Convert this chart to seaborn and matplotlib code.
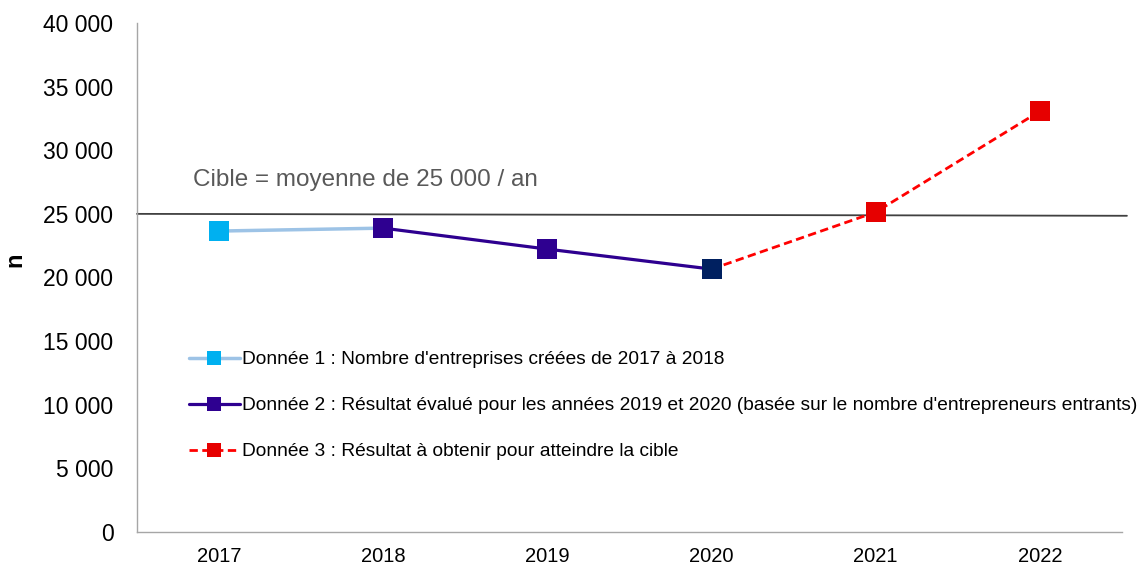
import matplotlib
matplotlib.use("Agg")
import matplotlib.pyplot as plt
from matplotlib.lines import Line2D
import seaborn as sns
import pandas as pd

# ---- data ----
years = ["2017", "2018", "2019", "2020", "2021", "2022"]
serie1_years = ["2017", "2018"]
serie1_values = [23650, 23880]
serie2_years = ["2018", "2019", "2020"]
serie2_values = [23880, 22230, 20660]
serie3_years = ["2020", "2021", "2022"]
serie3_values = [20660, 25140, 33070]
point_values = [23650, 23880, 22230, 20660, 25140, 33070]
cible_values = [25000, 24850]
cible_text = "Cible = moyenne de 25 000 / an"
legend_labels = [
    "Donnée 1 : Nombre d'entreprises créées de 2017 à 2018",
    "Donnée 2 : Résultat évalué pour les années 2019 et 2020 (basée sur le nombre d'entrepreneurs entrants)",
    "Donnée 3 : Résultat à obtenir pour atteindre la cible",
]
y_ticks = [0, 5000, 10000, 15000, 20000, 25000, 30000, 35000, 40000]
y_label = "n"

# ---- styles ----
c1_line, c1_mark = "#9DC3E6", "#00B0F0"
c2 = "#2E0090"
c2_last = "#002060"
c3 = "#FF0000"
c3_mark = "#E60000"
point_colors = [c1_mark, c2, c2, c2_last, c3_mark, c3_mark]

sns.set_theme(style="white")
plt.rcParams["font.family"] = ["Liberation Sans", "DejaVu Sans"]
plt.rcParams["text.color"] = "black"
plt.rcParams["xtick.labelcolor"] = "black"
plt.rcParams["ytick.labelcolor"] = "black"
plt.rcParams["axes.labelcolor"] = "black"

fig = plt.figure(figsize=(11.4, 5.65), dpi=100)
ax = fig.add_axes([137 / 1140, 1 - 532 / 565, (1122 - 137) / 1140, (532 - 23) / 565])

idx = {y: i for i, y in enumerate(years)}

d1 = pd.DataFrame({"x": [idx[y] for y in serie1_years], "v": serie1_values})
d2 = pd.DataFrame({"x": [idx[y] for y in serie2_years], "v": serie2_values})
d3 = pd.DataFrame({"x": [idx[y] for y in serie3_years], "v": serie3_values})
dp = pd.DataFrame({"x": list(range(len(years))), "v": point_values, "c": point_colors})

# target line
ax.plot([-0.5, 5.53], cible_values, color="#404040", lw=1.3, clip_on=False, zorder=2)

sns.lineplot(data=d1, x="x", y="v", ax=ax, color=c1_line, lw=2.5, zorder=3)
sns.lineplot(data=d2, x="x", y="v", ax=ax, color=c2, lw=2.3, zorder=3)
sns.lineplot(data=d3, x="x", y="v", ax=ax, color=c3, lw=2.0, zorder=3,
             linestyle=(0, (3, 1.6)))
sns.scatterplot(data=dp, x="x", y="v", ax=ax, hue="c", palette={c: c for c in point_colors},
                marker="s", s=210, linewidth=0, zorder=4, legend=False)

ax.text(-0.16, 27700, cible_text, fontsize=17.5, color="#595959", va="center", ha="left")

ax.set_xlim(-0.5, 5.5)
ax.set_ylim(0, 40000)
ax.set_xticks([i - 0.5 for i in range(len(years) + 1)])
ax.set_xticklabels([])
ax.set_xticks(list(range(len(years))), minor=True)
ax.set_xticklabels(years, minor=True, fontsize=14.5)
ax.tick_params(axis="x", which="major", direction="out", length=6, color="#A6A6A6", width=1)
ax.tick_params(axis="x", which="minor", length=0, pad=11)
ax.set_yticks(y_ticks)
ax.set_yticklabels([f"{v:,}".replace(",", " ") for v in y_ticks], fontsize=16.5)
ax.tick_params(axis="y", direction="out", length=7, color="#A6A6A6", width=1, pad=10)
ax.set_xlabel("")
ax.set_ylabel(y_label, fontsize=17, fontweight="bold", va="center", ha="center")
ax.yaxis.set_label_coords((15 - 137) / 985, 0.534)

for s in ["top", "right"]:
    ax.spines[s].set_visible(False)
for s in ["left", "bottom"]:
    ax.spines[s].set_color("#A6A6A6")
    ax.spines[s].set_linewidth(1)
ax.grid(False)

handles = [
    Line2D([0], [0], color=c1_line, lw=2.5, marker="s", markersize=10,
           markerfacecolor=c1_mark, markeredgewidth=0),
    Line2D([0], [0], color=c2, lw=2.3, marker="s", markersize=10,
           markerfacecolor=c2, markeredgewidth=0),
    Line2D([0], [0], color=c3, lw=2.0, linestyle=(0, (3, 1.6)), marker="s", markersize=10,
           markerfacecolor=c3_mark, markeredgewidth=0),
]
fig.legend(handles, legend_labels, loc="upper left", bbox_to_anchor=(189 / 1140, 1 - 351 / 565),
           frameon=False, fontsize=13.75, handlelength=2.65, handletextpad=0.15,
           labelspacing=1.5, borderpad=0, borderaxespad=0)

fig.savefig("out.png", dpi=100)
